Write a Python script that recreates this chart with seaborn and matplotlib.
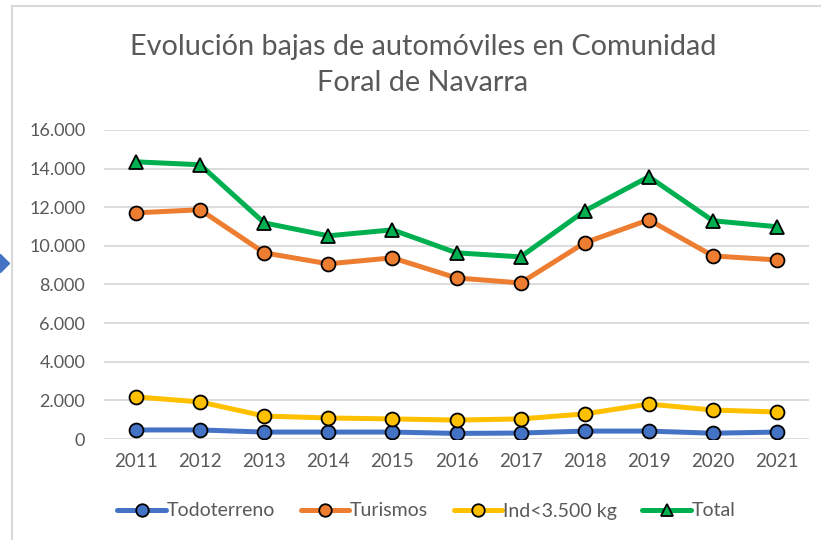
import matplotlib
matplotlib.use("Agg")
import matplotlib.pyplot as plt
import seaborn as sns
import pandas as pd
from matplotlib.lines import Line2D
from matplotlib.ticker import FuncFormatter

# datos
years = [2011, 2012, 2013, 2014, 2015, 2016, 2017, 2018, 2019, 2020, 2021]
todoterreno = [470, 470, 360, 360, 360, 290, 310, 410, 410, 300, 360]
turismos = [11710, 11870, 9640, 9070, 9380, 8340, 8080, 10160, 11350, 9480, 9270]
ind_35 = [2180, 1920, 1190, 1090, 1040, 980, 1040, 1300, 1810, 1500, 1400]
total = [14350, 14200, 11190, 10520, 10830, 9640, 9430, 11810, 13580, 11300, 10990]

series = ["Todoterreno", "Turismos", "Ind<3.500 kg", "Total"]
colores = ["#4472C4", "#ED7D31", "#FFC000", "#00B050"]
marcadores = ["o", "o", "o", "^"]

df = pd.DataFrame({"year": years, "Todoterreno": todoterreno, "Turismos": turismos,
                   "Ind<3.500 kg": ind_35, "Total": total})

sns.set_style("white")
plt.rcParams['font.family'] = ['Lato', 'DejaVu Sans']

fig = plt.figure(figsize=(8.21, 5.40), dpi=100)
ax = fig.add_axes([0.1267, 0.187, 0.8587, 0.5723])

for nombre, col, mk in zip(series, colores, marcadores):
    sns.lineplot(data=df, x="year", y=nombre, ax=ax, color=col, linewidth=3.6,
                 marker=mk, markersize=10 if mk == "o" else 9.5,
                 markeredgecolor="black", markeredgewidth=1.3, label=nombre, zorder=3)

ax.set_xlim(2010.5, 2021.5)
ax.set_ylim(0, 16000)
ax.set_xticks(years)
ax.set_yticks(range(0, 16001, 2000))
ax.yaxis.set_major_formatter(FuncFormatter(lambda v, p: f"{int(v):,}".replace(",", ".")))
ax.tick_params(axis="y", length=0, labelsize=13, colors="#595959", pad=13.5)
ax.tick_params(axis="x", length=0, labelsize=13.5, colors="#595959", pad=10)
ax.grid(axis="y", color="#d9d9d9", linewidth=1.3)
ax.set_axisbelow(True)
for s in ax.spines.values():
    s.set_visible(False)
ax.set_xlabel("")
ax.set_ylabel("")

handles = [Line2D([], [], color=c, linewidth=3.6, marker=m, markersize=9 if m == "o" else 8.5,
                  markerfacecolor=c, markeredgecolor="black", markeredgewidth=1.3)
           for c, m in zip(colores, marcadores)]
ax.legend(handles, series, loc="center", bbox_to_anchor=(0.5195, 1 - 511 / 540),
          bbox_transform=fig.transFigure, ncol=4, frameon=False, fontsize=14,
          handlelength=2.5, handletextpad=0.05, columnspacing=1.3, labelcolor="#595959")

fig.text(0.515, 1 - 47 / 540, "Evolución bajas de automóviles en Comunidad", ha="center",
         va="center", fontsize=20.8, color="#595959")
fig.text(0.515, 1 - 83 / 540, "Foral de Navarra", ha="center", va="center",
         fontsize=20.8, color="#595959")

# marco del gráfico y flecha del borde
fig.add_artist(Line2D([12 / 821, 12 / 821], [0, 1 - 6 / 540], transform=fig.transFigure,
                      color="#d9d9d9", linewidth=1.5))
fig.add_artist(Line2D([12 / 821, 1], [1 - 6 / 540, 1 - 6 / 540], transform=fig.transFigure,
                      color="#d9d9d9", linewidth=1.5))
fig.add_artist(Line2D([0], [1 - 263 / 540], transform=fig.transFigure, marker="D",
                      markersize=9, color="#4472C4", linestyle="none"))

fig.savefig("out.png", dpi=100)
